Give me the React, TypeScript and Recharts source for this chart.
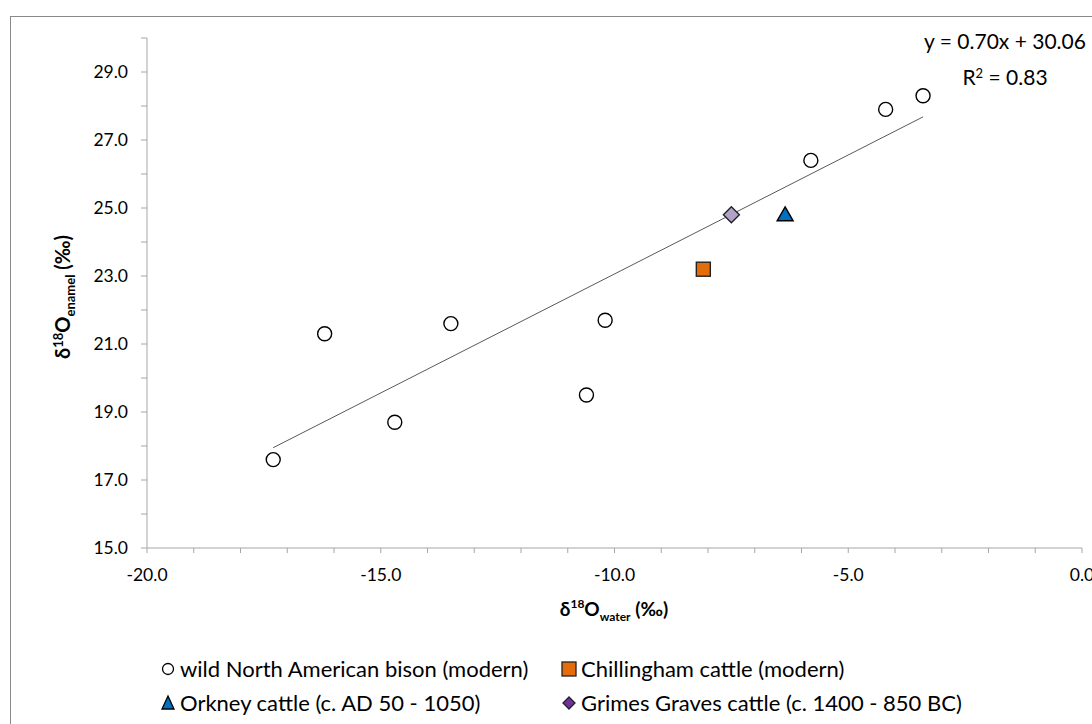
import React from "react"
import { ScatterChart, Scatter, XAxis, YAxis, ReferenceLine } from "recharts"

// wild North American bison (modern)
const bisonX = [-17.3, -16.2, -14.7, -13.5, -10.6, -10.2, -5.8, -4.2, -3.4]
const bisonY = [17.6, 21.3, 18.7, 21.6, 19.5, 21.7, 26.4, 27.9, 28.3]
const chillingham = [{ x: -8.1, y: 23.2 }]
const orkney = [{ x: -6.35, y: 24.8 }]
const grimes = [{ x: -7.5, y: 24.8 }]
// linear trend endpoints (y = 0.70x + 30.06)
const trend = [{ x: -17.3, y: 17.95 }, { x: -3.4, y: 27.68 }]

const xTicks = [-20, -19, -18, -17, -16, -15, -14, -13, -12, -11, -10, -9, -8, -7, -6, -5, -4, -3, -2, -1, 0]
const xLabelled = [-20, -15, -10, -5, 0]
const yTicks = [15, 16, 17, 18, 19, 20, 21, 22, 23, 24, 25, 26, 27, 28, 29, 30]
const yLabelled = [15, 17, 19, 21, 23, 25, 27, 29]

const bison = bisonX.map((x, i) => ({ x, y: bisonY[i] }))

const FONT = "Lato, 'Open Sans', sans-serif"
const AXIS = "#a6a6a6"

const Circle = (p: any) => <circle cx={p.cx} cy={p.cy} r={7} fill="#fff" stroke="#000" strokeWidth={1.4} />
const Square = (p: any) => <rect x={p.cx - 7} y={p.cy - 7} width={14} height={14} fill="#e46c0a" stroke="#222" strokeWidth={1.4} />
const Triangle = (p: any) => (
  <polygon points={`${p.cx},${p.cy - 8} ${p.cx + 8},${p.cy + 6} ${p.cx - 8},${p.cy + 6}`} fill="#0070c0" stroke="#000" strokeWidth={1.4} />
)
const Diamond = (p: any) => (
  <polygon points={`${p.cx},${p.cy - 8} ${p.cx + 8},${p.cy} ${p.cx},${p.cy + 8} ${p.cx - 8},${p.cy}`} fill="#b3a2c7" stroke="#222" strokeWidth={1.4} />
)

function XTick(p: any) {
  const v = p.payload.value
  return (
    <g>
      <line x1={p.x} x2={p.x} y1={p.y - 8} y2={p.y - 3} stroke={AXIS} />
      {xLabelled.includes(v) && (
        <text x={p.x} y={p.y + 25} textAnchor="middle" fontSize={17.5} fill="#000" fontFamily={FONT}>{v.toFixed(1)}</text>
      )}
    </g>
  )
}

function YTick(p: any) {
  const v = p.payload.value
  return (
    <g>
      <line x1={p.x + 2} x2={p.x + 8} y1={p.y} y2={p.y} stroke={AXIS} />
      {yLabelled.includes(v) && (
        <text x={p.x - 11} y={p.y + 6} textAnchor="end" fontSize={17.5} fill="#000" fontFamily={FONT}>{v.toFixed(1)}</text>
      )}
    </g>
  )
}

function LegendItem({ marker, label, width }: { marker: React.ReactNode; label: string; width: number }) {
  return (
    <div style={{ display: "flex", alignItems: "center", width, flexShrink: 0, whiteSpace: "nowrap" }}>
      <svg width={20} height={20} style={{ marginRight: 2, flexShrink: 0 }}>{marker}</svg>
      <span>{label}</span>
    </div>
  )
}

export default function App() {
  return (
    <div style={{ position: "absolute", left: 0, top: 0, width: 1092, height: 724, overflow: "hidden", fontFamily: FONT, background: "#fff" }}>
      <div style={{ position: "absolute", left: 10, top: 16, width: 1120, height: 740, border: "1.5px solid #888", boxSizing: "border-box" }} />
      <div style={{ position: "absolute", left: 0, top: 0 }}>
        <ScatterChart width={1092} height={724} margin={{ top: 38, right: 10, left: 0, bottom: 0 }}>
          <XAxis
            type="number"
            dataKey="x"
            domain={[-20, 0]}
            ticks={xTicks}
            interval={0}
            tick={<XTick />}
            tickLine={false}
            axisLine={{ stroke: AXIS }}
            height={176}
          />
          <YAxis
            type="number"
            dataKey="y"
            domain={[15, 30]}
            ticks={yTicks}
            interval={0}
            tick={<YTick />}
            tickLine={false}
            axisLine={{ stroke: AXIS }}
            width={147}
          />
          <ReferenceLine segment={trend} stroke="#595959" strokeWidth={1} ifOverflow="visible" />
          <Scatter data={bison} shape={Circle} isAnimationActive={false} />
          <Scatter data={chillingham} shape={Square} isAnimationActive={false} />
          <Scatter data={grimes} shape={Diamond} isAnimationActive={false} />
          <Scatter data={orkney} shape={Triangle} isAnimationActive={false} />
        </ScatterChart>
      </div>

      {/* trendline label */}
      <div style={{ position: "absolute", left: 905, top: 25, width: 200, textAlign: "center", fontSize: 21, lineHeight: "32px" }}>
        <div>y = 0.70x + 30.06</div>
        <div>R<sup style={{ fontSize: 13, verticalAlign: 7 }}>2</sup> = 0.83</div>
      </div>

      {/* axis titles */}
      <div style={{ position: "absolute", left: 614, top: 610, transform: "translate(-50%, -50%)", fontWeight: 700, fontSize: 19, whiteSpace: "nowrap" }}>
        δ<sup style={{ fontSize: 12 }}>18</sup>O<sub style={{ fontSize: 12 }}>water</sub> (‰)
      </div>
      <div style={{ position: "absolute", left: 64, top: 297, transform: "translate(-50%, -50%) rotate(-90deg)", fontWeight: 700, fontSize: 20, whiteSpace: "nowrap" }}>
        δ<sup style={{ fontSize: 13 }}>18</sup>O<sub style={{ fontSize: 13 }}>enamel</sub> (‰)
      </div>

      {/* legend */}
      <div style={{ position: "absolute", left: 158, top: 652, width: 900, fontSize: 22, lineHeight: "34px" }}>
        <div style={{ display: "flex" }}>
          <LegendItem width={401} marker={<circle cx={10} cy={10} r={5.5} fill="#fff" stroke="#000" strokeWidth={1.3} />} label="wild North American bison (modern)" />
          <LegendItem width={460} marker={<rect x={3} y={3} width={14} height={14} fill="#e46c0a" stroke="#222" strokeWidth={1.3} />} label="Chillingham cattle (modern)" />
        </div>
        <div style={{ display: "flex" }}>
          <LegendItem width={401} marker={<polygon points="10,3 16,16 4,16" fill="#0070c0" stroke="#000" strokeWidth={1.3} />} label="Orkney cattle (c. AD 50 - 1050)" />
          <LegendItem width={460} marker={<polygon points="10,4 16,10 10,16 4,10" fill="#7030a0" stroke="#222" strokeWidth={1.3} />} label="Grimes Graves cattle (c. 1400 - 850 BC)" />
        </div>
      </div>
    </div>
  )
}
